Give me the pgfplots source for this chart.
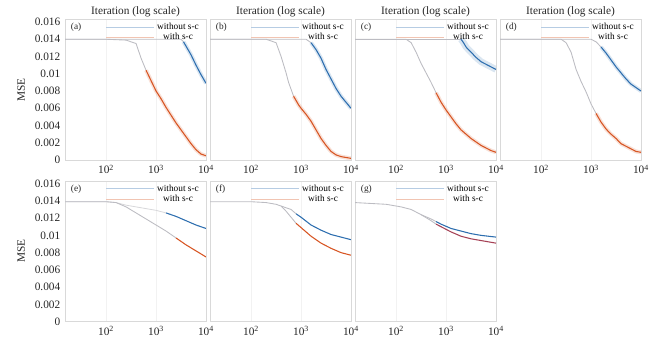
\documentclass[border=0pt]{standalone}
\usepackage{fontspec}
\setmainfont{Liberation Serif}
\usepackage{pgfplots}
\pgfplotsset{compat=1.18}
\definecolor{cblue}{RGB}{45,110,175}
\definecolor{corange}{RGB}{215,85,35}
\definecolor{lgray}{RGB}{188,188,194}
\definecolor{cred}{RGB}{165,65,85}
\pgfplotsset{legend image code/.code={\draw[#1] (0pt,0pt) -- (36pt,0pt);}}
\pgfplotsset{
 mypanel/.style={
  scale only axis, width=105.75pt, height=105.5pt,
  xmin=15, xmax=10000, ymin=0, ymax=0.0163,
  scaled y ticks=false,
  xtick={100,1000,10000},
  xticklabels={10\textsuperscript{2},10\textsuperscript{3},10\textsuperscript{4}},
  ytick={0,0.002,0.004,0.006,0.008,0.01,0.012,0.014,0.016},
  yticklabels={},
  axis line style={gray!30},
  major tick length=0pt, minor tick length=0pt,
  xmajorgrids, grid style={gray!10, line width=0.3pt},
  tick label style={font=\fontsize{8.5}{9}\selectfont, text=black!85},
  legend style={at={(rel axis cs:0.975,1)}, anchor=north east, draw=none, fill=none,
     font=\fontsize{7}{7}\selectfont, inner sep=0.5pt, row sep=-2.5pt},
  legend cell align=center,
  title style={at={(0.5,1)}, anchor=south, font=\fontsize{8.5}{9}\selectfont, inner sep=1pt, yshift=-5.3pt, text=black!85},
 },
 myleft/.style={yticklabels={0,0.002,0.004,0.006,0.008,0.01,0.012,0.014,0.016},
   ylabel={MSE}, ylabel style={at={(axis description cs:-0.31,0.5)}, anchor=center, font=\fontsize{8.5}{9}\selectfont, text=black!85}},
 pgl/.style={lgray, line width=0.65pt, forget plot},
 pgll/.style={lgray!60, line width=0.6pt, forget plot},
 pol/.style={corange, line width=0.8pt, forget plot},
 pob/.style={corange!70, line width=3pt, opacity=0.25, forget plot},
 pbl/.style={cblue, line width=0.8pt, forget plot},
 pbb/.style={cblue!70, line width=3pt, opacity=0.25, forget plot},
 prl/.style={cred, line width=0.8pt, forget plot},
}
\newcommand{\legs}{%
  \addlegendimage{cblue!35, line width=0.6pt}\addlegendentry{without s-c}
  \addlegendimage{corange!35, line width=0.6pt}\addlegendentry{with s-c}}
\newcommand{\plab}[1]{\node[anchor=north west, font=\fontsize{7}{7}\selectfont, inner sep=0pt, text=black!85] at (rel axis cs:0.04,0.975) {#1};}
\begin{document}
\begin{tikzpicture}
\useasboundingbox (0,0) rectangle (487.5pt,-260.25pt);
% (a)
\begin{semilogxaxis}[mypanel, myleft, at={(48.75pt,-14.55pt)}, anchor=north west, title={Iteration (log scale)}]
\addplot[pgl] coordinates {(15,0.014)(3162,0.014)(3548,0.0137)};
\addplot[pgl] coordinates {(15,0.014)(100,0.014)(251,0.0139)(398,0.0135)(501,0.0118)(631,0.0104)};
\addplot[pob] coordinates {(631,0.0104)(794,0.0092)(1000,0.008)(1259,0.0071)(1585,0.0061)(1995,0.0052)(2512,0.0043)(3162,0.0035)(3981,0.0027)(5012,0.0019)(6310,0.0012)(7943,0.0007)(10000,0.0005)};
\addplot[pol] coordinates {(631,0.0104)(794,0.0092)(1000,0.008)(1259,0.0071)(1585,0.0061)(1995,0.0052)(2512,0.0043)(3162,0.0035)(3981,0.0027)(5012,0.0019)(6310,0.0012)(7943,0.0007)(10000,0.0005)};
\addplot[pbb] coordinates {(3548,0.0137)(3981,0.0132)(5012,0.0122)(6310,0.011)(7943,0.0099)(10000,0.0089)};
\addplot[pbl] coordinates {(3548,0.0137)(3981,0.0132)(5012,0.0122)(6310,0.011)(7943,0.0099)(10000,0.0089)};
\legs
\plab{(a)}
\end{semilogxaxis}
% (b)
\begin{semilogxaxis}[mypanel, at={(157.5pt,-14.55pt)}, anchor=north west, title={Iteration (log scale)}]
\addplot[pgl] coordinates {(15,0.014)(1259,0.014)(1585,0.0136)};
\addplot[pgl] coordinates {(15,0.014)(200,0.014)(316,0.0136)(398,0.012)(501,0.0101)(562,0.009)(708,0.0074)};
\addplot[pob] coordinates {(708,0.0074)(891,0.0064)(1000,0.006)(1259,0.0053)(1585,0.0045)(1995,0.0035)(2512,0.0025)(3162,0.0017)(3981,0.001)(5012,0.0006)(6310,0.0004)(7943,0.0003)(10000,0.0002)};
\addplot[pol] coordinates {(708,0.0074)(891,0.0064)(1000,0.006)(1259,0.0053)(1585,0.0045)(1995,0.0035)(2512,0.0025)(3162,0.0017)(3981,0.001)(5012,0.0006)(6310,0.0004)(7943,0.0003)(10000,0.0002)};
\addplot[pbb] coordinates {(1585,0.0136)(1995,0.0128)(2512,0.0118)(3162,0.0105)(3981,0.0094)(5012,0.0083)(6310,0.0074)(7943,0.0067)(10000,0.006)};
\addplot[pbl] coordinates {(1585,0.0136)(1995,0.0128)(2512,0.0118)(3162,0.0105)(3981,0.0094)(5012,0.0083)(6310,0.0074)(7943,0.0067)(10000,0.006)};
\legs
\plab{(b)}
\end{semilogxaxis}
% (c)
\begin{semilogxaxis}[mypanel, at={(266.25pt,-14.55pt)}, anchor=north west, title={Iteration (log scale)}]
\addplot[pgl] coordinates {(15,0.014)(1995,0.014)};
\addplot[pgl] coordinates {(15,0.014)(158,0.014)(200,0.0136)(251,0.0125)(316,0.0112)(398,0.0101)(501,0.009)(631,0.0078)};
\addplot[pob] coordinates {(631,0.0078)(794,0.0067)(1000,0.0058)(1259,0.005)(1585,0.0042)(1995,0.0035)(2512,0.003)(3162,0.0025)(3981,0.0021)(5012,0.0017)(6310,0.0014)(7943,0.0011)(10000,0.0009)};
\addplot[pol] coordinates {(631,0.0078)(794,0.0067)(1000,0.0058)(1259,0.005)(1585,0.0042)(1995,0.0035)(2512,0.003)(3162,0.0025)(3981,0.0021)(5012,0.0017)(6310,0.0014)(7943,0.0011)(10000,0.0009)};
\addplot[pbb, line width=5pt] coordinates {(1995,0.014)(2239,0.0136)(2512,0.0131)(3162,0.0125)(3981,0.0119)(5012,0.0114)(6310,0.0111)(7943,0.0108)(10000,0.0105)};
\addplot[pbl] coordinates {(1995,0.014)(2239,0.0136)(2512,0.0131)(3162,0.0125)(3981,0.0119)(5012,0.0114)(6310,0.0111)(7943,0.0108)(10000,0.0105)};
\legs
\plab{(c)}
\end{semilogxaxis}
% (d)
\begin{semilogxaxis}[mypanel, at={(375pt,-14.55pt)}, anchor=north west, title={Iteration (log scale)}]
\addplot[pgl] coordinates {(15,0.014)(1000,0.014)(1259,0.0137)(1585,0.0131)};
\addplot[pgl] coordinates {(15,0.014)(251,0.014)(316,0.0136)(398,0.0125)(501,0.0105)(631,0.0091)(794,0.0079)(1000,0.0065)(1259,0.0054)};
\addplot[pob] coordinates {(1259,0.0054)(1585,0.0044)(1995,0.0036)(2512,0.003)(3162,0.0025)(3981,0.0019)(5012,0.0016)(6310,0.0013)(7943,0.001)(10000,0.0009)};
\addplot[pol] coordinates {(1259,0.0054)(1585,0.0044)(1995,0.0036)(2512,0.003)(3162,0.0025)(3981,0.0019)(5012,0.0016)(6310,0.0013)(7943,0.001)(10000,0.0009)};
\addplot[pbb] coordinates {(1585,0.0131)(1995,0.0124)(2512,0.0116)(3162,0.0108)(3981,0.0101)(5012,0.0094)(6310,0.0088)(7943,0.0084)(10000,0.008)};
\addplot[pbl] coordinates {(1585,0.0131)(1995,0.0124)(2512,0.0116)(3162,0.0108)(3981,0.0101)(5012,0.0094)(6310,0.0088)(7943,0.0084)(10000,0.008)};
\legs
\plab{(d)}
\end{semilogxaxis}
% (e)
\begin{semilogxaxis}[mypanel, myleft, at={(48.75pt,-135.75pt)}, anchor=north west]
\addplot[pgll] coordinates {(15,0.0139)(100,0.0139)(158,0.0138)(251,0.0135)(398,0.0133)(631,0.0131)(1000,0.0129)(1585,0.0126)};
\addplot[pgl] coordinates {(15,0.0139)(100,0.0139)(158,0.0138)(251,0.0133)(398,0.0126)(631,0.0119)(1000,0.0112)(1585,0.0105)(2512,0.0097)};
\addplot[pol] coordinates {(2512,0.0097)(3981,0.0089)(6310,0.0082)(10000,0.0075)};
\addplot[pbl] coordinates {(1585,0.0126)(2512,0.0122)(3981,0.0117)(6310,0.0112)(10000,0.0108)};
\legs
\plab{(e)}
\end{semilogxaxis}
% (f)
\begin{semilogxaxis}[mypanel, at={(157.5pt,-135.75pt)}, anchor=north west]
\addplot[pgl] coordinates {(15,0.0139)(100,0.0139)(200,0.0138)(316,0.0136)(398,0.0134)(501,0.0132)(631,0.013)(794,0.0125)};
\addplot[pgl] coordinates {(398,0.0134)(501,0.0128)(631,0.0121)(794,0.0114)};
\addplot[pbl] coordinates {(794,0.0125)(1000,0.0121)(1585,0.0112)(2512,0.0106)(3981,0.0101)(6310,0.0098)(10000,0.0095)};
\addplot[pol] coordinates {(794,0.0114)(1000,0.0109)(1585,0.0099)(2512,0.0091)(3981,0.0085)(6310,0.008)(10000,0.0077)};
\legs
\plab{(f)}
\end{semilogxaxis}
% (g)
\begin{semilogxaxis}[mypanel, at={(266.25pt,-135.75pt)}, anchor=north west]
\addplot[pgl] coordinates {(15,0.0138)(63,0.0136)(126,0.0133)(200,0.013)(316,0.0124)(501,0.0119)(631,0.0116)};
\addplot[pgl] coordinates {(316,0.0124)(501,0.0117)(631,0.0113)};
\addplot[pbl] coordinates {(631,0.0116)(794,0.0113)(1259,0.0108)(1995,0.0105)(3162,0.0102)(5012,0.01)(10000,0.0098)};
\addplot[prl] coordinates {(631,0.0113)(794,0.011)(1259,0.0104)(1995,0.0099)(3162,0.0096)(5012,0.0094)(10000,0.0091)};
\legs
\plab{(g)}
\end{semilogxaxis}
\end{tikzpicture}
\end{document}
